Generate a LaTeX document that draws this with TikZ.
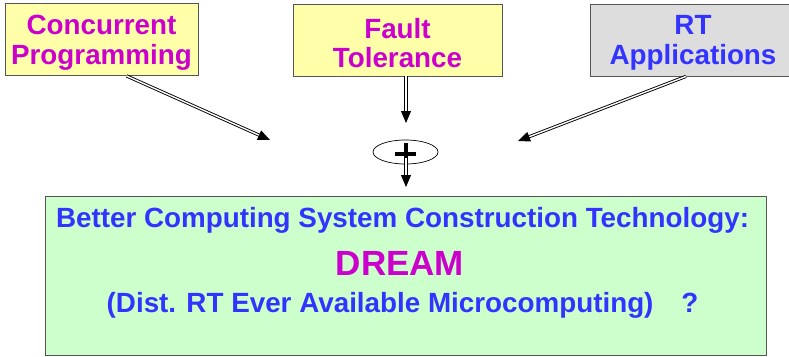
\documentclass[tikz,border=0pt]{standalone}
\usepackage{fontspec}
\setmainfont{Liberation Sans}
\usetikzlibrary{arrows.meta,shapes.geometric,calc}
\definecolor{magtext}{HTML}{CC00CC}
\definecolor{bluetext}{HTML}{3333FF}
\definecolor{paleyellow}{HTML}{FFFFAA}
\definecolor{palegray}{HTML}{DDDDDD}
\definecolor{palegreen}{HTML}{CCFFCC}
\definecolor{boxline}{HTML}{555555}
\tikzset{
  topbox/.style={draw=boxline, line width=0.8pt, minimum height=72pt, inner sep=0pt},
  toptext/.style={align=center, inner sep=0pt, font=\fontsize{27.8}{29.5}\selectfont\bfseries},
  dblarrow/.style={draw=black, double=white, double distance=1.4pt, line width=0.9pt,
    -{Triangle[length=12pt,width=10pt]}},
  bigtext/.style={text=bluetext, font=\fontsize{27.8}{30}\selectfont\bfseries, inner sep=0pt},
}
\begin{document}
\begin{tikzpicture}[x=1pt,y=-1pt]
\useasboundingbox (0,0) rectangle (789,356);
% source boxes
\node[topbox, fill=paleyellow, minimum width=193pt] (conc) at (101.5,39.5) {};
\node[topbox, fill=paleyellow, minimum width=209pt] (fault) at (397.5,40) {};
\node[topbox, fill=palegray, minimum width=200pt] (rtapp) at (690,40) {};
\node[toptext, text=magtext] (conctext) at ($(conc.center)+(0,3)$) {Concurrent\\Programming};
\node[toptext, text=magtext] (faulttext) at ($(fault.center)+(0,3)$) {Fault\\Tolerance};
\node[toptext, text=bluetext] (rttext) at ($(rtapp.center)+(3,3)$) {RT\\Applications};
% result box
\node[draw=boxline, line width=0.8pt, fill=palegreen, minimum width=721pt, minimum height=159pt, inner sep=0pt] (result) at (405.5,275.5) {};
\node[bigtext, anchor=base] (line1) at (402.5,227) {Better Computing System Construction Technology:};
\node[text=magtext, font=\fontsize{35}{38}\selectfont\bfseries, inner sep=0pt, anchor=base] (dream) at (400,275) {DREAM};
\node[bigtext, anchor=base] (line3) at (402.5,312) {(Dist. RT Ever Available Microcomputing)\quad ?};
% combining operator
\node[draw=black, line width=0.7pt, ellipse, minimum width=65pt, minimum height=24pt, inner sep=0pt] (plus) at (405.5,152) {};
\draw[line width=3.5pt] ($(plus.center)+(-10.5,2)$) -- ($(plus.center)+(10.5,2)$);
\draw[line width=3.5pt] ($(plus.center)+(0.5,-9)$) -- ($(plus.center)+(0.5,8)$);
% arrow ends
\coordinate (tipa) at (270,140);
\coordinate (tipb) at (406,123);
\coordinate (tipc) at (518,141);
\coordinate (tipd) at (406,187);
\draw[dblarrow] ($(conc.south)+(25,0)$) -- (tipa);
\draw[dblarrow] ($(fault.south)+(8.5,0)$) -- (tipb);
\draw[dblarrow] ($(rtapp.south)+(-4,0)$) -- (tipc);
\draw[dblarrow] ($(plus.center)+(0.5,6)$) -- (tipd);
\end{tikzpicture}
\end{document}
